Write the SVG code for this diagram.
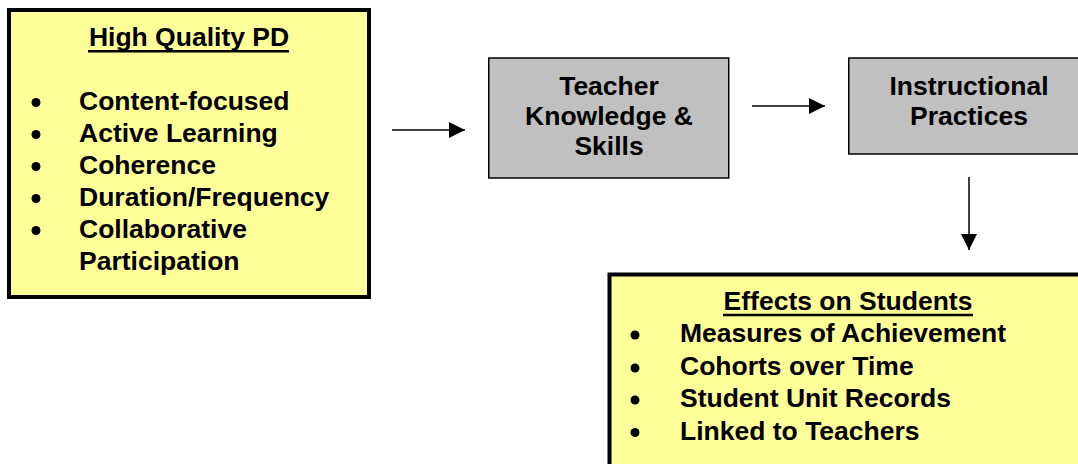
<svg xmlns="http://www.w3.org/2000/svg" width="1078" height="464" viewBox="0 0 1078 464">
  <style>
    .lbl { font-family: "Liberation Sans", Arial, sans-serif; font-weight: bold; font-size: 26.5px; fill: #000; }
    .mid { text-anchor: middle; }
    .yellow { fill: #ffff99; stroke: #000; stroke-width: 4; }
    .gray { fill: #c0c0c0; stroke: #000; stroke-width: 1.5; }
    .uline { stroke: #000; stroke-width: 2.5; }
    .dot { fill: #000; }
    .conn { stroke: #000; stroke-width: 1.5; fill: none; marker-end: url(#arrow); }
  </style>
  <defs>
    <marker id="arrow" markerUnits="userSpaceOnUse" markerWidth="16" markerHeight="17" viewBox="0 0 16 17" refX="16" refY="8.5" orient="auto">
      <path d="M0,0.5 L16,8.5 L0,16.5 Z" fill="#000"/>
    </marker>
  </defs>

  <rect width="1078" height="464" fill="#fff"/>

  <!-- Professional development features -->
  <g id="node-pd">
    <rect class="yellow" x="9" y="10" width="360" height="287"/>
    <text class="lbl mid" x="189" y="46">High Quality PD</text>
    <line class="uline" x1="88" y1="51.3" x2="289" y2="51.3"/>
    <circle class="dot" cx="36" cy="102.5" r="4.5"/>
    <circle class="dot" cx="36" cy="134.5" r="4.5"/>
    <circle class="dot" cx="36" cy="166.5" r="4.5"/>
    <circle class="dot" cx="36" cy="198.5" r="4.5"/>
    <circle class="dot" cx="36" cy="230.5" r="4.5"/>
    <text class="lbl" x="79" y="110">Content-focused</text>
    <text class="lbl" x="79" y="142">Active Learning</text>
    <text class="lbl" x="79" y="174">Coherence</text>
    <text class="lbl" x="79" y="206">Duration/Frequency</text>
    <text class="lbl" x="79" y="238">Collaborative</text>
    <text class="lbl" x="79" y="270">Participation</text>
  </g>

  <g id="node-teacher">
    <rect class="gray" x="488.75" y="58" width="240" height="120"/>
    <text class="lbl mid" x="609" y="95">Teacher</text>
    <text class="lbl mid" x="609" y="125">Knowledge &amp;</text>
    <text class="lbl mid" x="609" y="155">Skills</text>
  </g>

  <g id="node-practice">
    <rect class="gray" x="848.75" y="58" width="260" height="96"/>
    <text class="lbl mid" x="969" y="95">Instructional</text>
    <text class="lbl mid" x="969" y="125">Practices</text>
  </g>

  <g id="node-effects">
    <rect class="yellow" x="609.5" y="274.5" width="500" height="220"/>
    <text class="lbl mid" x="848" y="310">Effects on Students</text>
    <line class="uline" x1="723" y1="315" x2="973" y2="315"/>
    <circle class="dot" cx="635" cy="335" r="4.5"/>
    <circle class="dot" cx="635" cy="368" r="4.5"/>
    <circle class="dot" cx="635" cy="400" r="4.5"/>
    <circle class="dot" cx="635" cy="432.5" r="4.5"/>
    <text class="lbl" x="680" y="342">Measures of Achievement</text>
    <text class="lbl" x="680" y="375">Cohorts over Time</text>
    <text class="lbl" x="680" y="407">Student Unit Records</text>
    <text class="lbl" x="680" y="440">Linked to Teachers</text>
  </g>

  <g id="connectors">
    <line class="conn" x1="392" y1="130" x2="465" y2="130"/>
    <line class="conn" x1="752" y1="106" x2="825" y2="106"/>
    <line class="conn" x1="969" y1="177" x2="969" y2="250"/>
  </g>
</svg>
